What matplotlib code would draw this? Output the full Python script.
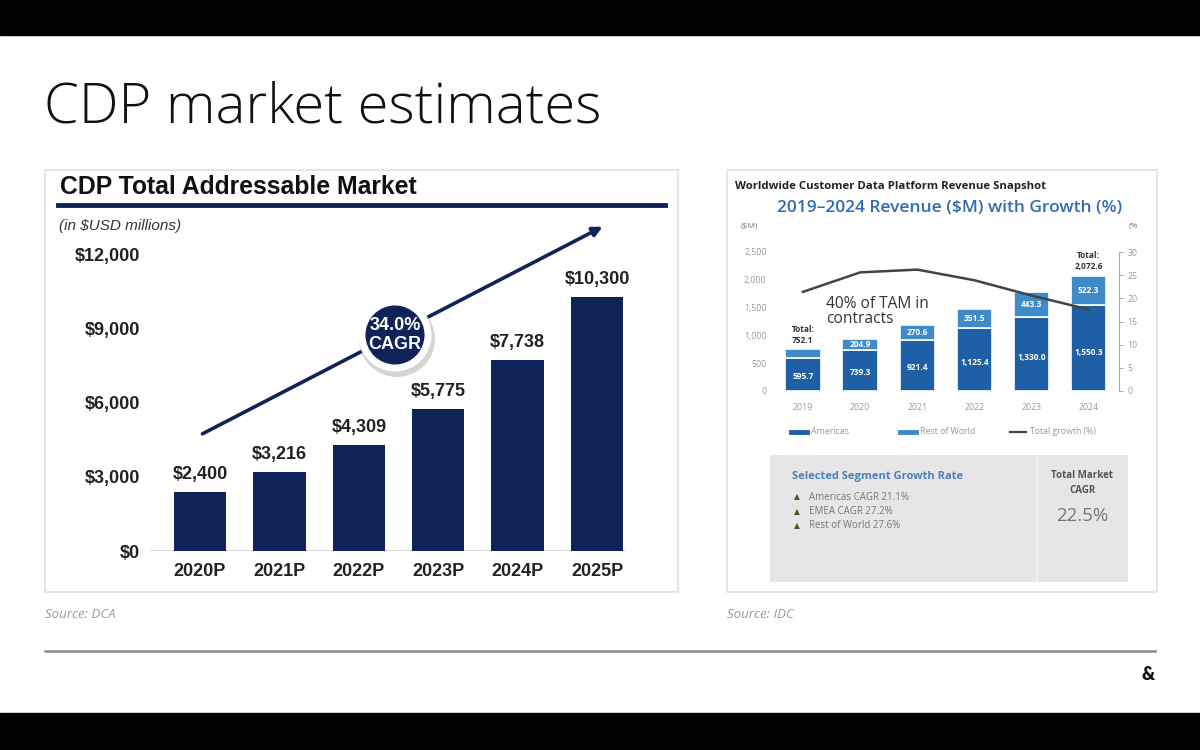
import numpy as np
import matplotlib
matplotlib.use("Agg")
import matplotlib.pyplot as plt
from matplotlib.patches import Rectangle, Circle
from matplotlib.lines import Line2D

# left chart data (DCA)
tam_years = ["2020P", "2021P", "2022P", "2023P", "2024P", "2025P"]
tam_values = [2400, 3216, 4309, 5775, 7738, 10300]
tam_ticks = [0, 3000, 6000, 9000, 12000]

# right chart data (IDC)
idc_years = ["2019", "2020", "2021", "2022", "2023", "2024"]
americas = [595.7, 739.3, 921.4, 1125.4, 1330.0, 1550.3]
rest_world = [156.4, 204.9, 270.6, 351.5, 443.3, 522.3]
growth = [21.4, 25.6, 26.2, 23.9, 20.6, 17.6]
idc_ticks = [0, 500, 1000, 1500, 2000, 2500]
pct_ticks = [0, 5, 10, 15, 20, 25, 30]
segments = ["Americas CAGR 21.1%", "EMEA CAGR 27.2%", "Rest of World 27.6%"]

W, H = 1200, 750
NAVY = "#0f2359"
BLUE_D = "#1f5fa6"
BLUE_L = "#3f8ac9"


def fx(x):
    return x / W


def fy(y):
    return 1 - y / H


def box(x0, y0, x1, y1):
    return [fx(x0), fy(y1), (x1 - x0) / W, (y1 - y0) / H]


fig = plt.figure(figsize=(12, 7.5), dpi=100)
fig.patch.set_facecolor("white")

# black letterbox bars
fig.patches.append(Rectangle((0, fy(35)), 1, 35 / H, transform=fig.transFigure, color="black", zorder=0))
fig.patches.append(Rectangle((0, 0), 1, 37 / H, transform=fig.transFigure, color="black", zorder=0))

fig.text(fx(44), fy(108), "CDP market estimates", fontsize=40.5, fontfamily="Open Sans",
         fontweight="light", color="#111111", va="center", ha="left")

# panel frames
for (x0, y0, x1, y1) in [(45, 170, 678, 592), (727, 170, 1157, 592)]:
    fig.patches.append(Rectangle((fx(x0), fy(y1)), (x1 - x0) / W, (y1 - y0) / H,
                                 transform=fig.transFigure, facecolor="white",
                                 edgecolor="#e6e6e6", lw=1.5, zorder=0.2))

# ---------------- left panel ----------------
lf = "Liberation Sans"
fig.text(fx(60), fy(187), "CDP Total Addressable Market", fontsize=17.8, fontweight="bold",
         fontfamily=lf, color="#111111", va="center")
fig.add_artist(Line2D([fx(58), fx(665)], [fy(205), fy(205)], color=NAVY, lw=3.5))
fig.text(fx(59), fy(226), "(in $USD millions)", fontsize=11, style="italic",
         fontfamily=lf, color="#333333", va="center")

axL = fig.add_axes(box(150, 255, 640, 551))
axL.set_zorder(2)
xs = np.arange(len(tam_years))
axL.bar(xs, tam_values, width=0.66, color=NAVY, zorder=2)
for x, v in zip(xs, tam_values):
    axL.text(x, v + 350, f"${v:,}", ha="center", va="bottom", fontsize=13,
             fontweight="bold", fontfamily=lf, color="#222222")
axL.set_xlim(-0.63, 5.54)
axL.set_ylim(0, 12000)
axL.set_yticks(tam_ticks)
axL.set_yticklabels([f"${t:,}" for t in tam_ticks], fontsize=13, fontweight="bold",
                    fontfamily=lf, color="#222222")
axL.set_xticks(xs)
axL.set_xticklabels(tam_years, fontsize=13, fontweight="bold", fontfamily=lf, color="#222222")
axL.tick_params(length=0, pad=7)
axL.tick_params(axis="x", pad=9)
for s in axL.spines.values():
    s.set_visible(False)
axL.axhline(0, xmin=0.0, xmax=0.97, color="#dddddd", lw=1.5, zorder=1)
axL.patch.set_alpha(0)

# growth arrow and CAGR badge
axL.annotate("", xy=(5.1, 13200), xytext=(0, 4700),
             arrowprops=dict(arrowstyle="-|>", color=NAVY, lw=2.6, mutation_scale=14),
             annotation_clip=False)
shadow = Circle((3.97, (H - 339) / 100), 0.38, transform=fig.dpi_scale_trans,
                facecolor="#c4c4c4", edgecolor="none", zorder=5, alpha=0.7)
badge = Circle((3.95, (H - 335) / 100), 0.33, transform=fig.dpi_scale_trans,
               facecolor=NAVY, edgecolor="white", lw=5, zorder=6)
fig.patches.extend([shadow, badge])
fig.text(fx(395), fy(335), "34.0%\nCAGR", ha="center", va="center", fontsize=13,
         fontweight="bold", fontfamily=lf, color="white", linespacing=1.15, zorder=7)

fig.text(fx(45), fy(614), "Source: DCA", fontsize=9.5, style="italic", color="#999999",
         fontfamily="Open Sans", va="center")

# ---------------- right panel ----------------
rf = "Open Sans"
fig.text(fx(735), fy(186), "Worldwide Customer Data Platform Revenue Snapshot", fontsize=8.2,
         fontweight="bold", fontfamily=rf, color="#222222", va="center")
fig.text(fx(950), fy(208), "2019\u20132024 Revenue ($M) with Growth (%)", fontsize=12.5,
         fontweight="semibold", fontfamily=rf, color="#2f6db0", va="center", ha="center")
fig.text(fx(741), fy(226), "($M)", fontsize=6, fontfamily=rf, color="#777777", va="center")
fig.text(fx(1129), fy(226), "(%", fontsize=6, fontfamily=rf, color="#777777", va="center")

axR = fig.add_axes(box(775, 252, 1119, 391))
axR.set_zorder(2)
xr = np.arange(len(idc_years))
bw = 0.62
axR.bar(xr, americas, width=bw, color=BLUE_D, edgecolor="white", lw=1.2, zorder=2)
axR.bar(xr, rest_world, bottom=americas, width=bw, color=BLUE_L, edgecolor="white", lw=1.2,
        zorder=2)
for i, (a, r) in enumerate(zip(americas, rest_world)):
    axR.text(i, a * 0.45, f"{a:,.1f}", ha="center", va="center", fontsize=6, fontweight="bold",
             fontfamily=rf, color="white", zorder=4)
    if i > 0:
        axR.text(i, a + r / 2, f"{r:,.1f}", ha="center", va="center", fontsize=6,
                 fontweight="bold", fontfamily=rf, color="white", zorder=4)
for i in (0, len(idc_years) - 1):
    tot = americas[i] + rest_world[i]
    axR.text(i, tot + 80, f"Total:\n{tot:,.1f}", ha="center", va="bottom", fontsize=6,
             fontweight="bold", fontfamily=rf, color="#333333", linespacing=1.3)
axR.set_xlim(-0.49, 5.53)
axR.set_ylim(0, 2500)
axR.set_yticks(idc_ticks)
axR.set_yticklabels([f"{t:,}" for t in idc_ticks], fontsize=6.3, fontfamily=rf, color="#999999")
axR.set_xticks(xr)
axR.set_xticklabels(idc_years, fontsize=6.3, fontfamily=rf, color="#999999")
axR.tick_params(length=0, pad=6)
axR.tick_params(axis="x", pad=9)
for s in axR.spines.values():
    s.set_visible(False)
axR.axhline(0, color="#cccccc", lw=0.8, zorder=1)
axR.patch.set_alpha(0)

axP = axR.twinx()
axP.set_zorder(3)
axP.patch.set_alpha(0)
axP.plot(xr, growth, color="#444444", lw=1.8, zorder=5)
axP.set_ylim(0, 30)
axP.set_yticks(pct_ticks)
axP.set_yticklabels([str(t) for t in pct_ticks], fontsize=6.3, fontfamily=rf, color="#999999")
axP.tick_params(axis="y", length=3, width=0.6, color="#999999", pad=3)
for k, s in axP.spines.items():
    s.set_visible(k == "right")
axP.spines["right"].set_color("#999999")
axP.spines["right"].set_linewidth(0.6)

axP.text(0.4, 17.2, "40% of TAM in\ncontracts", fontsize=11.2, fontfamily=rf, color="#333333",
         ha="left", va="center", linespacing=0.95, zorder=6)

# legend row, drawn by hand to match the spacing
legend_items = [("Americas", BLUE_D, 3.5, 791), ("Rest of World", BLUE_L, 3.5, 900),
                ("Total growth (%)", "#444444", 1.6, 1010)]
for lab, col, lw, x0 in legend_items:
    fig.add_artist(Line2D([fx(x0), fx(x0 + 16)], [fy(432), fy(432)], color=col, lw=lw))
    fig.text(fx(x0 + 20), fy(432), lab, fontsize=6.3, fontfamily=rf, color="#999999",
             va="center", ha="left")

# segment growth box
fig.patches.append(Rectangle((fx(770), fy(582)), 358 / W, 127 / H, transform=fig.transFigure,
                             facecolor="#e6e6e6", edgecolor="none", zorder=1))
fig.add_artist(Line2D([fx(1037), fx(1037)], [fy(457), fy(580)], color="#f2f2f2", lw=1.2))
fig.text(fx(792), fy(476), "Selected Segment Growth Rate", fontsize=8, fontweight="bold",
         fontfamily=rf, color="#4a7fc0", va="center")
for j, seg in enumerate(segments):
    yy = 497 + j * 14.5
    fig.text(fx(797), fy(yy), "\u25b2", fontsize=5.5, fontfamily="DejaVu Sans", color="#3d5a2a",
             va="center", ha="center")
    fig.text(fx(809), fy(yy), seg, fontsize=7, fontfamily=rf, color="#777777", va="center")
fig.text(fx(1082), fy(483), "Total Market\nCAGR", fontsize=7, fontweight="bold", fontfamily=rf,
         color="#555555", ha="center", va="center", linespacing=1.6)
fig.text(fx(1082), fy(516), "22.5%", fontsize=13.5, fontfamily=rf, color="#777777",
         ha="center", va="center")

fig.text(fx(727), fy(614), "Source: IDC", fontsize=9.5, style="italic", color="#999999",
         fontfamily="Open Sans", va="center")

# footer
fig.add_artist(Line2D([fx(45), fx(1155)], [fy(651), fy(651)], color="#8a8a8a", lw=1.8))
fig.text(fx(1148), fy(675), "&", fontsize=13, fontweight="heavy", fontfamily="Lato",
         color="#111111", ha="center", va="center")

fig.savefig("out.png", dpi=100)
